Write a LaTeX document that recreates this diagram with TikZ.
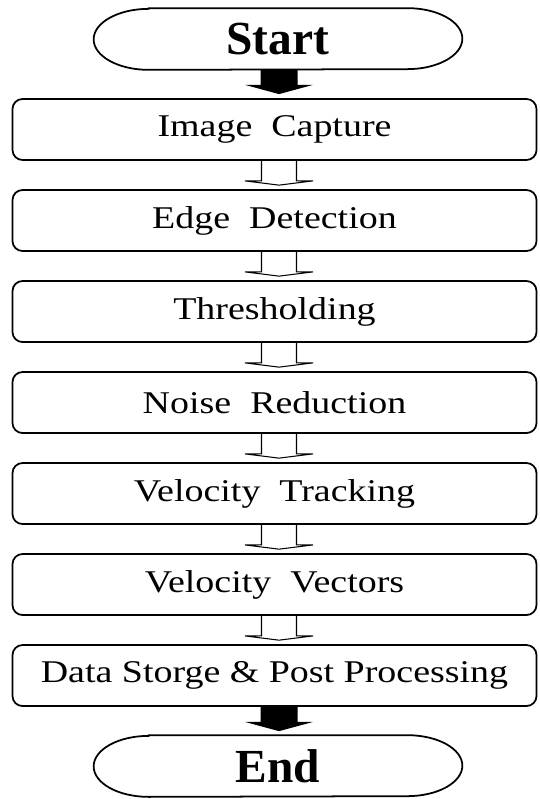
\documentclass[tikz,border=0pt]{standalone}
\usepackage{fontspec}
\setmainfont{Liberation Serif}
\newfontfamily\stagefont[FakeStretch=1.2]{Liberation Serif}
\usetikzlibrary{positioning,calc}
\tikzset{
  stage/.style={draw, line width=1pt, rounded corners=0.2cm,
    minimum width=10.48cm, minimum height=1.22cm,
    font=\stagefont\fontsize{18}{21}\selectfont},
  terminal/.style={inner sep=2pt, minimum width=7.36cm, minimum height=1.22cm,
    font=\bfseries\fontsize{27}{31}\selectfont},
  hollow/.style={line width=0.6pt},
}
\newcommand{\terminalshape}[1]{
  \draw[line width=1pt] ([xshift=1.1cm]#1.north west) -- ([xshift=-1.1cm]#1.north east)
    arc[start angle=90, end angle=-90, x radius=1.1cm, y radius=0.61cm]
    -- ([xshift=1.1cm]#1.south west)
    arc[start angle=270, end angle=90, x radius=1.1cm, y radius=0.61cm] -- cycle;
}
\newcommand{\hollowarrow}[2]{
  \draw[hollow] ($(#1.south -| col)+(-0.35,0)$) |- ($(#1.south -| col)+(-0.68,-0.4)$)
    -- ($(#2.north -| col)+(0,0.08)$)
    -- ($(#1.south -| col)+(0.68,-0.4)$) -| ($(#1.south -| col)+(0.35,0)$);
}
\newcommand{\solidarrow}[2]{
  \fill ($(#1.south -| col)+(-0.37,0)$) |- ($(#1.south -| col)+(-0.68,-0.3)$)
    -- ($(#2.north -| col)+(0,0.08)$)
    -- ($(#1.south -| col)+(0.68,-0.3)$) -| ($(#1.south -| col)+(0.37,0)$) -- cycle;
}

\begin{document}
\begin{tikzpicture}[node distance=0.565cm]
  \useasboundingbox (0,0) rectangle (10.8,15.98);
  \coordinate (col) at (5.58,0);

  \node[terminal] (start) at (5.56,15.2) {Start};
  \terminalshape{start}

  \node[stage] (capture) at (5.49,13.39) {Image\ \ Capture};
  \node[stage, below=of capture] (edge) {Edge\ \ Detection};
  \node[stage, below=of edge] (thresh) {Thresholding};
  \node[stage, below=of thresh] (noise) {Noise\ \ Reduction};
  \node[stage, below=of noise] (track) {Velocity\ \ Tracking};
  \node[stage, below=of track] (vectors) {Velocity\ \ Vectors};
  \node[stage, below=of vectors] (store) {Data Storge \& Post Processing};

  \node[terminal, below=of store, xshift=0.07cm] (end) {End};
  \terminalshape{end}

  % arrows between the steps
  \solidarrow{start}{capture}
  \hollowarrow{capture}{edge}
  \hollowarrow{edge}{thresh}
  \hollowarrow{thresh}{noise}
  \hollowarrow{noise}{track}
  \hollowarrow{track}{vectors}
  \hollowarrow{vectors}{store}
  \solidarrow{store}{end}
\end{tikzpicture}
\end{document}
